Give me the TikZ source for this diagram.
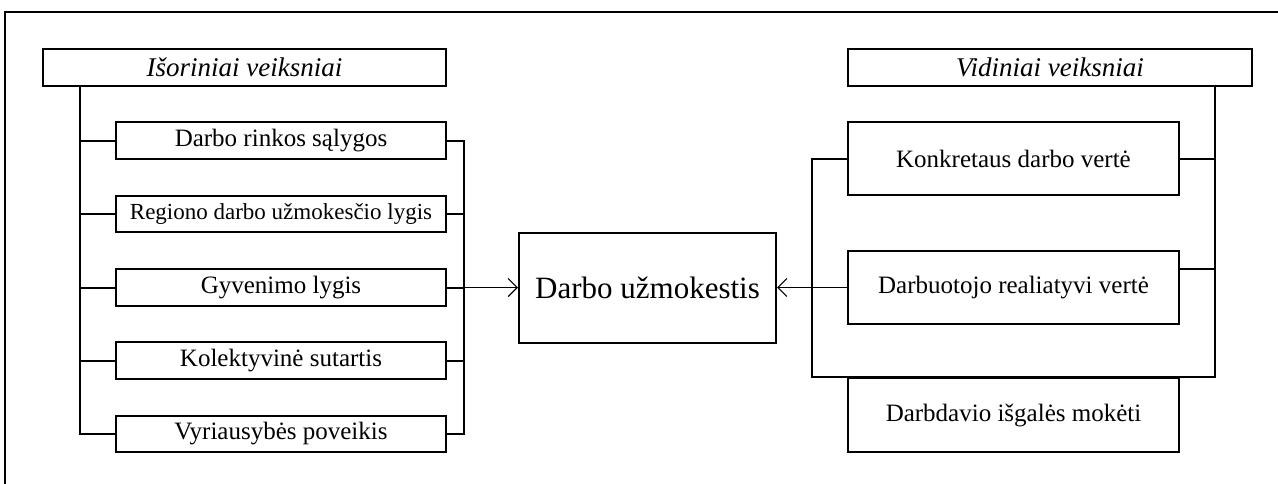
\documentclass[tikz,border=0pt]{standalone}
\usepackage{fontspec}
\setmainfont{Liberation Serif}
\usetikzlibrary{arrows.meta}
\tikzset{
  box/.style={draw, line width=2pt, minimum width=330pt, minimum height=37pt, inner sep=0pt, font=\fontsize{25}{30}\selectfont},
  head/.style={draw, line width=2pt, minimum width=403pt, minimum height=37pt, inner sep=0pt, font=\fontsize{27}{32}\selectfont\itshape},
  conn/.style={line width=2pt},
  arr/.style={line width=1.2pt, -{Straight Barb[length=9pt,width=18pt,line width=1.2pt]}}
}
\begin{document}
\begin{tikzpicture}[x=1pt,y=-1pt]
\useasboundingbox (0,0) rectangle (1278,483);
\clip (0,0) rectangle (1278,483);
\draw[line width=2pt] (5,490) -- (5,12) -- (1290,12);
% left side
\node[head] (h1) at (244.5,67.5) {Išoriniai veiksniai};
\node[box] (l1) at (281,140.5) {Darbo rinkos sąlygos};
\node[box, minimum height=36pt, font=\fontsize{23}{28}\selectfont] (l2) at (281,214) {Regiono darbo užmokesčio lygis};
\node[box] (l3) at (281,287.5) {Gyvenimo lygis};
\node[box] (l4) at (281,360.5) {Kolektyvinė sutartis};
\node[box, minimum height=36pt] (l5) at (281,434) {Vyriausybės poveikis};
\coordinate (LB) at (80,0);
\coordinate (RB) at (464,0);
\draw[conn] (h1.south -| LB) |- (l5.west);
\foreach \n in {l1,l2,l3,l4} \draw[conn] (\n.west) -- (\n.west -| LB);
\draw[conn] (l1.east) -| (RB |- l5.east) -- (l5.east);
\foreach \n in {l2,l3,l4} \draw[conn] (\n.east) -- (\n.east -| RB);
% center
\node[draw, line width=2pt, minimum width=257pt, minimum height=110pt, font=\fontsize{31}{36}\selectfont] (c) at (647.5,287.5) {Darbo užmokestis};
\draw[arr] (l3.east) -- (c.west);
% right side
\node[head, minimum width=404pt] (h2) at (1050,67.5) {Vidiniai veiksniai};
\node[box, minimum width=331pt, minimum height=73pt] (r1) at (1013.5,158.5) {Konkretaus darbo vertė};
\node[box, minimum width=331pt, minimum height=73pt] (r2) at (1013.5,287.5) {Darbuotojo realiatyvi vertė};
\node[box, minimum width=331pt, minimum height=74pt] (r3) at (1013.5,415) {Darbdavio išgalės mokėti};
\coordinate (R) at (1215,0);
\coordinate (Lx) at (812,0);
\draw[conn] (h2.south -| R) -- (R |- r3.north) -- (Lx |- r3.north) -- (Lx |- r1.west) -- (r1.west);
\draw[conn] (r1.east) -- (r1.east -| R);
\draw[conn] ([yshift=18.5pt]r2.east) -- ([yshift=18.5pt]r2.east -| R);
\draw[arr] (r2.west) -- (c.east);
\end{tikzpicture}
\end{document}
